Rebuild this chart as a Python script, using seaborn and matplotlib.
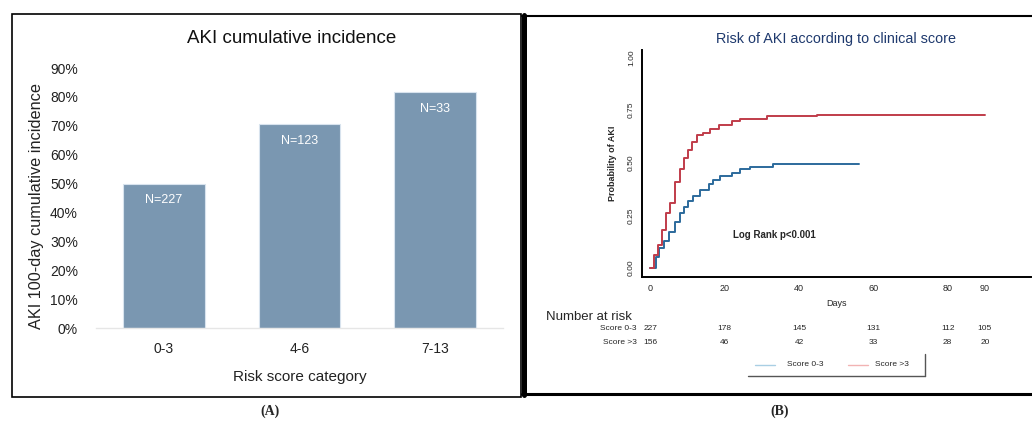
import numpy as np
import pandas as pd
import matplotlib
matplotlib.use("Agg")
import matplotlib.pyplot as plt
import matplotlib.transforms as mtransforms
from matplotlib.lines import Line2D
from matplotlib.patches import Rectangle
import seaborn as sns

# ---------------- data ----------------
categories = ["0-3", "4-6", "7-13"]
incidence = [0.50, 0.707, 0.817]
n_labels = ["N=227", "N=123", "N=33"]

days_lo = [0, 1.6, 2.5, 3.6, 5.1, 6.7, 7.9, 9.1, 10.3, 11.6, 13.4, 15.7, 17.0, 18.8, 22.0, 24.2, 26.9, 33.1, 56.2]
cum_lo = [0, 0.05, 0.095, 0.13, 0.17, 0.22, 0.26, 0.29, 0.32, 0.34, 0.37, 0.40, 0.42, 0.435, 0.45, 0.47, 0.48, 0.494, 0.494]

days_hi = [0, 0.5, 0.9, 2.0, 3.1, 4.2, 5.4, 6.7, 7.9, 9.0, 10.1, 11.2, 12.5, 14.3, 16.1, 18.4, 22.0, 24.2, 31.4, 35.0, 44.8, 90]
cum_hi = [0, 0, 0.063, 0.11, 0.18, 0.26, 0.31, 0.41, 0.47, 0.52, 0.56, 0.60, 0.63, 0.64, 0.66, 0.68, 0.70, 0.705, 0.72, 0.722, 0.728, 0.728]

groups = ["Score 0-3", "Score >3"]
risk_times = [0, 20, 40, 60, 80, 90]
risk_lo = ["227", "178", "145", "131", "112", "105"]
risk_hi = ["156", "46", "42", "33", "28", "20"]
xticks_b = [0, 20, 40, 60, 80, 90]
yticks_b = [0, 0.25, 0.5, 0.75, 1.0]
yticklabels_b = ["0.00", "0.25", "0.50", "0.75", "1.00"]

# ---------------- style ----------------
sns.set_theme(style="white")
plt.rcParams["font.family"] = ["Liberation Sans", "DejaVu Sans"]

W, H = 1032, 424
fig = plt.figure(figsize=(W / 100, H / 100), dpi=100)


def fx(px):
    return px / W


def fy(py):
    return 1 - py / H


def axes_rect(x0, y0, x1, y1):
    return [fx(x0), fy(y1), (x1 - x0) / W, (y1 - y0) / H]


# ---------------- Panel A ----------------
axA = fig.add_axes(axes_rect(96, 68, 503, 328))
dfA = pd.DataFrame({"cat": categories, "inc": incidence})
sns.barplot(data=dfA, x="cat", y="inc", color="#7a97b1", saturation=1,
            width=0.6, ax=axA, edgecolor="#d8e3ee", linewidth=0.8)
axA.set_xlim(-0.5, 2.5)
axA.set_ylim(0, 0.9)
axA.set_yticks(np.arange(0, 0.91, 0.1))
axA.set_yticklabels([f"{int(round(v * 100))}%" for v in np.arange(0, 0.91, 0.1)],
                    fontsize=10, color="#222222")
axA.tick_params(axis="x", labelsize=10, colors="#222222", length=0, pad=10)
axA.tick_params(axis="y", length=0, pad=13)
for s in ["top", "right", "left"]:
    axA.spines[s].set_visible(False)
axA.spines["bottom"].set_color("#e6e6e6")
axA.spines["bottom"].set_linewidth(1)
axA.set_xlabel("Risk score category", fontsize=11, color="#222222", labelpad=10)
axA.set_ylabel("AKI 100-day cumulative incidence", fontsize=11.7, color="#222222")
axA.yaxis.set_label_coords(-0.128, 0.47)
axA.set_title("AKI cumulative incidence", fontsize=13.5, color="#111111", pad=18, x=0.48)
for i, (v, lab) in enumerate(zip(incidence, n_labels)):
    axA.text(i, v - 0.058, lab, ha="center", va="center", color="white", fontsize=9)

# ---------------- Panel B ----------------
axB = fig.add_axes(axes_rect(642, 50, 1031, 277))
dfB = pd.concat([
    pd.DataFrame({"days": days_lo, "cum": cum_lo, "grp": groups[0]}),
    pd.DataFrame({"days": days_hi, "cum": cum_hi, "grp": groups[1]}),
])
sns.lineplot(data=dfB, x="days", y="cum", hue="grp",
             palette={groups[0]: "#2c6a9c", groups[1]: "#c03c4a"},
             drawstyle="steps-post", linewidth=1.4, ax=axB, legend=False,
             estimator=None, sort=False)
axB.set_xlim(-2.2, 102.4)
axB.set_ylim(-0.043, 1.035)
axB.set_xticks(xticks_b)
axB.set_xticklabels([str(t) for t in xticks_b], fontsize=6.5)
axB.set_yticks(yticks_b)
axB.set_yticklabels(yticklabels_b, fontsize=6, rotation=90, va="center")
axB.tick_params(axis="both", length=3, width=0.8, color="black", direction="out", pad=2)
for s in ["top", "right"]:
    axB.spines[s].set_visible(False)
for s in ["left", "bottom"]:
    axB.spines[s].set_color("black")
    axB.spines[s].set_linewidth(1.4)
axB.set_xlabel("Days", fontsize=6.5, labelpad=4)
axB.set_ylabel("Probability of AKI", fontsize=6.5, fontweight="bold", labelpad=8)
axB.set_title("Risk of AKI according to clinical score", fontsize=10.4,
              color="#1f3a6e", pad=5)
axB.text(22.3, 0.157, "Log Rank p<0.001", fontsize=7, fontweight="bold",
         ha="left", va="center")

# risk table
trans = mtransforms.blended_transform_factory(axB.transData, fig.transFigure)
fig.text(fx(546), fy(317), "Number at risk", fontsize=9.5, ha="left", va="center")
fig.text(fx(637), fy(329), groups[0], fontsize=6, ha="right", va="center")
fig.text(fx(637), fy(342), groups[1], fontsize=6, ha="right", va="center")
for t, a, b in zip(risk_times, risk_lo, risk_hi):
    fig.text(t, fy(329), a, transform=trans, fontsize=6, ha="center", va="center")
    fig.text(t, fy(342), b, transform=trans, fontsize=6, ha="center", va="center")

# legend
fig.add_artist(Line2D([fx(755), fx(775)], [fy(365), fy(365)], color="#a9cfe4", lw=1))
fig.text(fx(787), fy(365), groups[0], fontsize=6, ha="left", va="center")
fig.add_artist(Line2D([fx(848), fx(868)], [fy(365), fy(365)], color="#f2b3b3", lw=1))
fig.text(fx(875), fy(365), groups[1], fontsize=6, ha="left", va="center")
fig.add_artist(Line2D([fx(748), fx(925)], [fy(376), fy(376)], color="#555555", lw=1))
fig.add_artist(Line2D([fx(925), fx(925)], [fy(354), fy(376)], color="#555555", lw=1))

# ---------------- frames & panel labels ----------------
fig.add_artist(Rectangle((fx(12), fy(397)), (521 - 12) / W, (397 - 14) / H,
                         fill=False, edgecolor="black", lw=1.2,
                         transform=fig.transFigure))
fig.add_artist(Line2D([fx(522), fx(1032)], [fy(16), fy(16)], color="black", lw=1.5))
fig.add_artist(Line2D([fx(524), fx(524)], [fy(15), fy(395)], color="black", lw=3.6))
fig.add_artist(Line2D([fx(522), fx(1032)], [fy(394), fy(394)], color="black", lw=2.2))

fig.text(fx(270), fy(411), "(A)", fontsize=10, fontweight="bold",
         family=["Liberation Serif", "DejaVu Serif"], ha="center", va="center")
fig.text(fx(780), fy(411), "(B)", fontsize=10, fontweight="bold",
         family=["Liberation Serif", "DejaVu Serif"], ha="center", va="center")

fig.savefig("out.png", dpi=100, facecolor="white")
